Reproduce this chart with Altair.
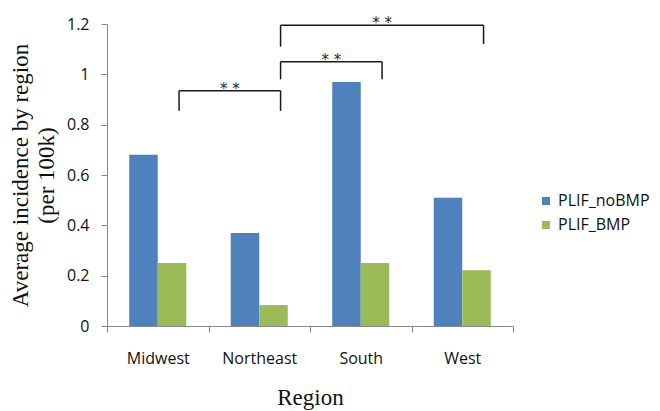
import altair as alt
import pandas as pd

regions = ["Midwest", "Northeast", "South", "West"]
plif_nobmp = [0.68, 0.37, 0.97, 0.51]
plif_bmp = [0.25, 0.083, 0.25, 0.222]
series_names = ["PLIF_noBMP", "PLIF_BMP"]
series_colors = ["#4F81BD", "#9BBB59"]

bracket_from = ["Midwest", "Northeast", "Northeast"]
bracket_to = ["Northeast", "South", "West"]
bracket_top = [0.935, 1.05, 1.195]
bracket_from_bottom = [0.855, 0.98, 1.11]
bracket_to_bottom = [0.855, 0.98, 1.12]
bracket_label = ["* *", "* *", "* *"]

rows = []
for r, a, b in zip(regions, plif_nobmp, plif_bmp):
    rows.append({"Region": r, "Series": series_names[0], "Value": a})
    rows.append({"Region": r, "Series": series_names[1], "Value": b})
bars_df = pd.DataFrame(rows)

LABEL_FONT = "Open Sans"
TITLE_FONT = "Liberation Serif"
AXIS_GRAY = "#878787"
LEG = 0.71

xscale = alt.Scale(domain=regions, paddingInner=0, paddingOuter=0)
yscale = alt.Scale(domain=[0, 1.2], nice=False, zero=True)

bars = alt.Chart(bars_df).mark_bar().encode(
    x=alt.X("Region:N", sort=regions, scale=xscale,
            axis=alt.Axis(title="Region", tickBand="extent", labelAngle=0,
                          labelFont=LABEL_FONT, labelFontSize=16, labelColor="#111",
                          labelPadding=18, tickSize=6, tickColor=AXIS_GRAY,
                          domainColor=AXIS_GRAY, titleFont=TITLE_FONT,
                          titleFontSize=23, titleFontWeight="normal",
                          titleColor="#111", titlePadding=20)),
    xOffset=alt.XOffset("Series:N", sort=series_names,
                        scale=alt.Scale(domain=series_names, paddingInner=0, paddingOuter=0.78)),
    y=alt.Y("Value:Q", scale=yscale,
            axis=alt.Axis(title=["Average incidence by region", "(per 100k)"],
                          values=[0, 0.2, 0.4, 0.6, 0.8, 1.0, 1.2], format="~g",
                          grid=False, tickSize=6, tickColor=AXIS_GRAY,
                          domainColor=AXIS_GRAY, labelFont=LABEL_FONT,
                          labelFontSize=16, labelColor="#111", labelPadding=12,
                          titleFont=TITLE_FONT, titleFontSize=23,
                          titleFontWeight="normal", titleColor="#111",
                          titleX=-75, titleY=151, titleAlign="center",
                          titleLineHeight=26)),
    color=alt.Color("Series:N", sort=series_names,
                    scale=alt.Scale(domain=series_names, range=series_colors),
                    legend=alt.Legend(title=None, orient="none", legendX=431, legendY=169,
                                      symbolType="square", symbolSize=64,
                                      symbolStrokeWidth=0, labelFont=LABEL_FONT,
                                      labelFontSize=16, labelColor="#111",
                                      rowPadding=8, labelOffset=4)),
)

layers = [bars]
for f, t, top, fb, tb, lab in zip(bracket_from, bracket_to, bracket_top,
                                   bracket_from_bottom, bracket_to_bottom, bracket_label):
    i0 = regions.index(f)
    pos = i0 + LEG + (regions.index(t) - i0) / 2
    mid_cat = regions[int(pos)]
    mid_bp = pos - int(pos)
    d = pd.DataFrame([{"from": f, "to": t, "mid": mid_cat, "top": top,
                       "fb": fb, "tb": tb, "lab": lab}])
    base = alt.Chart(d)
    horiz = base.mark_rule(color="#1a1a1a", strokeWidth=1.5).encode(
        x=alt.X("from:N", bandPosition=LEG, scale=xscale),
        x2=alt.X2("to:N", bandPosition=LEG),
        y=alt.Y("top:Q", scale=yscale),
    )
    left = base.mark_rule(color="#1a1a1a", strokeWidth=1.5).encode(
        x=alt.X("from:N", bandPosition=LEG, scale=xscale),
        y=alt.Y("top:Q", scale=yscale),
        y2="fb:Q",
    )
    right = base.mark_rule(color="#1a1a1a", strokeWidth=1.5).encode(
        x=alt.X("to:N", bandPosition=LEG, scale=xscale),
        y=alt.Y("top:Q", scale=yscale),
        y2="tb:Q",
    )
    stars = base.mark_text(font="DejaVu Sans", fontSize=15, color="#2b2b2b",
                           baseline="alphabetic", dy=3).encode(
        x=alt.X("mid:N", bandPosition=mid_bp, scale=xscale),
        y=alt.Y("top:Q", scale=yscale),
        text="lab:N",
    )
    layers += [horiz, left, right, stars]

chart = alt.layer(*layers).properties(
    width=406, height=302,
    autosize=alt.AutoSizeParams(type="none"),
    padding={"left": 99, "top": 16, "right": 139, "bottom": 85},
).configure(background="white").configure_view(stroke=None)

chart.save("out.html", embed_options={"renderer": "svg", "actions": False})
